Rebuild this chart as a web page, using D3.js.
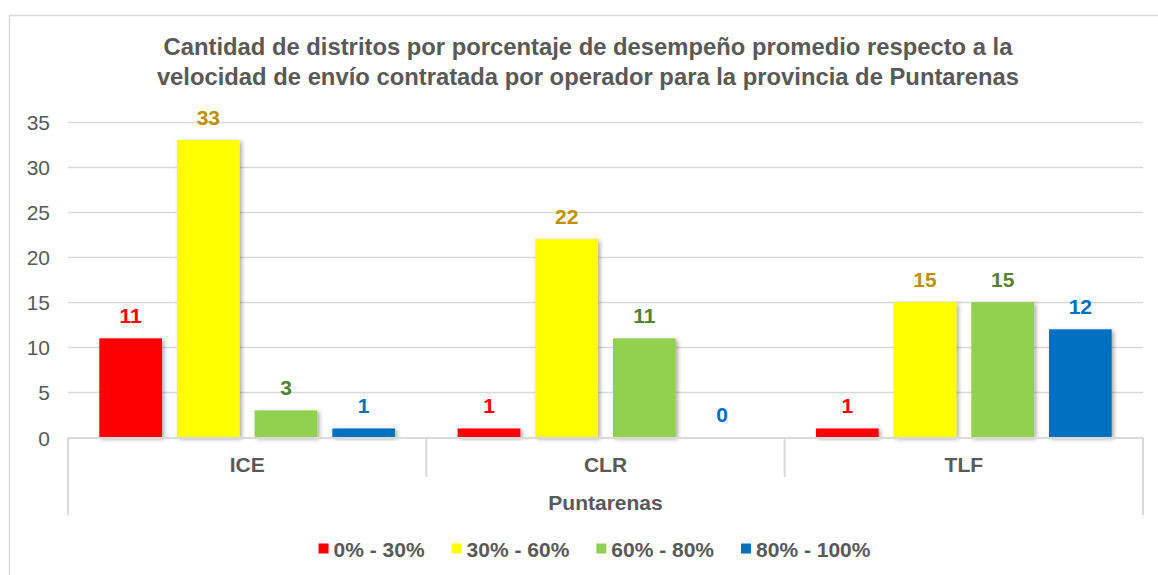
<!DOCTYPE html>
<html>
<head>
<meta charset="utf-8">
<script src="https://cdn.jsdelivr.net/npm/d3@7"></script>
<style>
  html, body { margin: 0; padding: 0; background: #fff; }
  svg { display: block; }
  text { font-family: "Liberation Sans", Arial, sans-serif; }
</style>
</head>
<body>
<svg id="chart" width="1158" height="575"></svg>
<script>
// ---- data ----
const categories = ["ICE", "CLR", "TLF"];
const groupLabel = "Puntarenas";
const seriesNames = ["0% - 30%", "30% - 60%", "60% - 80%", "80% - 100%"];
const values0to30 = [11, 1, 1];
const values30to60 = [33, 22, 15];
const values60to80 = [3, 11, 15];
const values80to100 = [1, 0, 12];
const yTicks = [0, 5, 10, 15, 20, 25, 30, 35];
const titleLines = [
  "Cantidad de distritos por porcentaje de desempeño promedio respecto a la",
  "velocidad de envío contratada por operador para la provincia de Puntarenas"
];

// ---- styles ----
const barColors = ["#FF0000", "#FFFF00", "#92D050", "#0070C0"];
const labelColors = ["#FF0000", "#BF9000", "#538135", "#0070C0"];
const textGray = "#595959";
const gridGray = "#D9D9D9";

const seriesValues = [values0to30, values30to60, values60to80, values80to100];
const data = categories.map((c, i) => ({
  cat: c,
  vals: seriesNames.map((s, j) => ({ s, j, v: seriesValues[j][i] }))
}));

const svg = d3.select("#chart");

// drop shadow
const defs = svg.append("defs");
const f = defs.append("filter").attr("id", "shadow")
  .attr("x", "-20%").attr("y", "-20%").attr("width", "150%").attr("height", "150%");
f.append("feDropShadow").attr("dx", 2).attr("dy", 1.5).attr("stdDeviation", 2)
  .attr("flood-color", "#000").attr("flood-opacity", 0.35);

// outer border
svg.append("rect").attr("x", 9.5).attr("y", 15.5).attr("width", 1170).attr("height", 580)
  .attr("fill", "none").attr("stroke", gridGray).attr("stroke-width", 1.5);

const left = 68, right = 1143, y0 = 437.5, yTop = 122;

const x0 = d3.scaleBand().domain(categories).range([left, right]).padding(0);
const x1 = d3.scaleBand().domain(seriesNames).range([0, x0.bandwidth()])
  .paddingInner(0.193).paddingOuter(0.403);
const y = d3.scaleLinear().domain([0, 35]).range([y0, yTop]);

// gridlines
svg.append("g").selectAll("line").data(yTicks.filter(t => t > 0)).join("line")
  .attr("x1", left).attr("x2", right)
  .attr("y1", d => Math.round(y(d)) + 0.5).attr("y2", d => Math.round(y(d)) + 0.5)
  .attr("stroke", gridGray).attr("stroke-width", 1.3);

// y axis labels
const yAxis = d3.axisLeft(y).tickValues(yTicks).tickSize(0).tickPadding(0);
const ga = svg.append("g").attr("transform", `translate(${50},0)`).call(yAxis);
ga.select(".domain").remove();
ga.selectAll("text").attr("fill", textGray).style("font-size", "21px")
  .style("font-family", "'Liberation Sans', Arial, sans-serif").attr("dy", "0.36em");

// bars
const groups = svg.append("g").selectAll("g").data(data).join("g")
  .attr("transform", d => `translate(${x0(d.cat)},0)`);
groups.selectAll("rect").data(d => d.vals).join("rect")
  .attr("x", d => x1(d.s)).attr("width", x1.bandwidth())
  .attr("y", d => y(d.v)).attr("height", d => y(0) - y(d.v))
  .attr("fill", d => barColors[d.j])
  .attr("filter", d => d.v > 0 ? "url(#shadow)" : null);

// data labels
groups.selectAll("text").data(d => d.vals).join("text")
  .attr("x", d => x1(d.s) + x1.bandwidth() / 2)
  .attr("y", d => y(d.v) - 15.5)
  .attr("text-anchor", "middle")
  .attr("fill", d => labelColors[d.j])
  .style("font-size", "21px").style("font-weight", "bold")
  .text(d => d.v);

// category axis
const axisG = svg.append("g");
axisG.append("line").attr("x1", left).attr("x2", right).attr("y1", y0 + 0.5).attr("y2", y0 + 0.5)
  .attr("stroke", gridGray).attr("stroke-width", 2);
const sepX = [left, ...categories.slice(1).map(c => x0(c)), right];
sepX.forEach((sx, i) => {
  const outer = (i === 0 || i === sepX.length - 1);
  axisG.append("line").attr("x1", sx).attr("x2", sx)
    .attr("y1", y0).attr("y2", outer ? 515 : 477)
    .attr("stroke", gridGray).attr("stroke-width", 2);
});
axisG.selectAll("text.cat").data(categories).join("text").attr("class", "cat")
  .attr("x", d => x0(d) + x0.bandwidth() / 2).attr("y", 471.5)
  .attr("text-anchor", "middle").attr("fill", textGray)
  .style("font-size", "21px").style("font-weight", "bold").text(d => d);
axisG.append("text").attr("x", (left + right) / 2).attr("y", 509.5)
  .attr("text-anchor", "middle").attr("fill", textGray)
  .style("font-size", "21px").style("font-weight", "bold").text(groupLabel);

// title
svg.append("g").selectAll("text").data(titleLines).join("text")
  .attr("x", 588).attr("y", (d, i) => 55 + i * 30)
  .attr("text-anchor", "middle").attr("fill", textGray)
  .style("font-size", "23.8px").style("font-weight", "bold").text(d => d);

// legend
const leg = svg.append("g");
const items = leg.selectAll("g").data(seriesNames).join("g");
items.append("rect").attr("width", 10).attr("height", 10).attr("y", 543.5)
  .attr("fill", (d, i) => barColors[i]);
items.append("text").attr("x", 15).attr("y", 556.5)
  .attr("fill", textGray).style("font-size", "21px").style("font-weight", "bold").text(d => d);
let widths = [];
items.each(function() { widths.push(d3.select(this).select("text").node().getComputedTextLength() + 15); });
const gap = 27;
const total = d3.sum(widths) + gap * (widths.length - 1);
let cx = 594.5 - total / 2;
items.attr("transform", (d, i) => { const t = `translate(${cx},0)`; cx += widths[i] + gap; return t; });
</script>
</body>
</html>
